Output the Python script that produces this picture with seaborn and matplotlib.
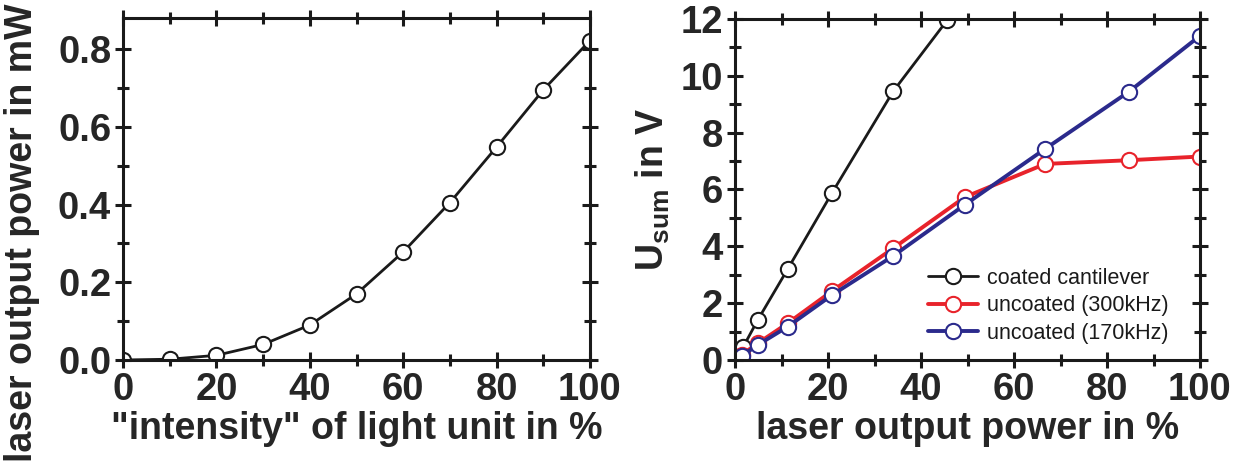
import numpy as np
import pandas as pd
import matplotlib
matplotlib.use("Agg")
import matplotlib.pyplot as plt
import seaborn as sns
from matplotlib.ticker import MultipleLocator

# Left panel: laser output power vs. light unit setting
intensity_pct = [0, 10, 20, 30, 40, 50, 60, 70, 80, 90, 100]
laser_power_mw = [0.0, 0.002, 0.012, 0.040, 0.090, 0.170, 0.278, 0.405, 0.548, 0.695, 0.822]

# Right panel: sum signal vs. laser output power
coated_x = [1.8, 4.9, 11.3, 20.9, 34.0, 45.6]
coated_y = [0.47, 1.41, 3.19, 5.89, 9.45, 11.95]
unc300_x = [1.4, 4.9, 11.3, 20.9, 34.0, 49.4, 66.7, 84.7, 100.0]
unc300_y = [0.18, 0.59, 1.29, 2.43, 3.93, 5.73, 6.90, 7.03, 7.16]
unc170_x = [1.4, 4.9, 11.3, 20.9, 34.0, 49.4, 66.7, 84.7, 100.0]
unc170_y = [0.14, 0.53, 1.17, 2.29, 3.66, 5.46, 7.43, 9.44, 11.41]
series_names = ["coated cantilever", "uncoated (300kHz)", "uncoated (170kHz)"]
series_colors = ["#1a1a1a", "#e8232b", "#2b2a8c"]

sns.set_style("ticks")
plt.rcParams["font.family"] = ["Liberation Sans", "DejaVu Sans"]
plt.rcParams["mathtext.fontset"] = "custom"
plt.rcParams["mathtext.rm"] = "Liberation Sans:bold"
plt.rcParams["mathtext.bf"] = "Liberation Sans:bold"
plt.rcParams["axes.linewidth"] = 2.2

fig = plt.figure(figsize=(12.53, 4.66), dpi=100)
ax1 = fig.add_axes([123 / 1253, 1 - 360 / 466, (590 - 123) / 1253, (360 - 18) / 466])
ax2 = fig.add_axes([735 / 1253, 1 - 360 / 466, (1200 - 735) / 1253, (360 - 19) / 466])

marker_kw = dict(marker="o", markersize=11, markerfacecolor="white", markeredgewidth=1.5)

df1 = pd.DataFrame({"x": intensity_pct, "y": laser_power_mw})
sns.lineplot(data=df1, x="x", y="y", ax=ax1, color="#1a1a1a", linewidth=2.0,
             markeredgecolor="#1a1a1a", **marker_kw)

frames = []
for name, xs, ys in zip(series_names, [coated_x, unc300_x, unc170_x],
                        [coated_y, unc300_y, unc170_y]):
    frames.append(pd.DataFrame({"x": xs, "y": ys, "series": name}))
df2 = pd.concat(frames, ignore_index=True)

widths = [2.0, 2.8, 2.8]
for name, col, lw in zip(series_names, series_colors, widths):
    sub = df2[df2["series"] == name]
    sns.lineplot(data=sub, x="x", y="y", ax=ax2, color=col, linewidth=lw,
                 markeredgecolor=col, label=name, **marker_kw)

tick_font = dict(fontsize=27.5, fontweight="bold")
label_font = dict(fontsize=27, fontweight="bold")

ax1.set_xlim(0, 100)
ax1.set_ylim(0, 0.88)
ax1.xaxis.set_minor_locator(MultipleLocator(10))
ax1.yaxis.set_minor_locator(MultipleLocator(0.1))
ax1.set_xticks([0, 20, 40, 60, 80, 100])
ax1.set_xticklabels(["0", "20", "40", "60", "80", "100"], **tick_font)
ax1.set_yticks([0.0, 0.2, 0.4, 0.6, 0.8])
ax1.set_yticklabels(["0.0", "0.2", "0.4", "0.6", "0.8"], **tick_font)
ax1.set_xlabel('"intensity" of light unit in %', labelpad=2, **label_font)
ax1.set_ylabel("laser output power in mW", **label_font)
ax1.yaxis.set_label_coords(-0.178, (360 - 233) / 342)

ax2.set_xlim(0, 100)
ax2.set_ylim(0, 12)
ax2.xaxis.set_minor_locator(MultipleLocator(10))
ax2.yaxis.set_minor_locator(MultipleLocator(1))
ax2.set_xticks([0, 20, 40, 60, 80, 100])
ax2.set_xticklabels(["0", "20", "40", "60", "80", "100"], **tick_font)
ax2.set_yticks([0, 2, 4, 6, 8, 10, 12])
ax2.set_yticklabels(["0", "2", "4", "6", "8", "10", "12"], **tick_font)
ax2.set_xlabel("laser output power in %", labelpad=2, **label_font)
ax2.set_ylabel(r"U$_{\mathbf{sum}}$ in V", labelpad=6, **label_font)

for ax in (ax1, ax2):
    for s in ax.spines.values():
        s.set_visible(True)
        s.set_color("#1a1a1a")
    ax.tick_params(which="both", top=True, right=True, color="#1a1a1a", pad=3)
    ax.tick_params(which="major", direction="inout", length=11, width=2.2)
    ax.tick_params(which="minor", direction="inout", length=8, width=2.2)

leg = ax2.legend(loc="lower right", bbox_to_anchor=(0.952, 0.022), frameon=False,
                 fontsize=15.5, handlelength=2.3, handletextpad=0.45, labelspacing=0.3,
                 borderaxespad=0)
for t in leg.get_texts():
    t.set_color("#1a1a1a")

fig.savefig("out.png", dpi=100)
